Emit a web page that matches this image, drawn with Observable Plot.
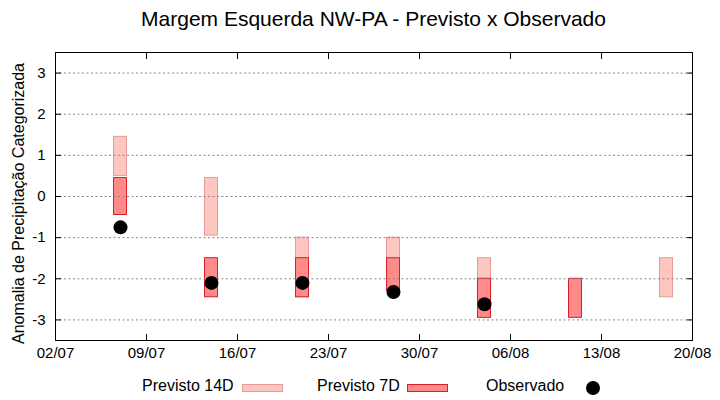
<!DOCTYPE html>
<html>
<head>
<meta charset="utf-8">
<script src="https://cdn.jsdelivr.net/npm/d3@7"></script>
<script src="https://cdn.jsdelivr.net/npm/@observablehq/plot@0.6"></script>
<style>
  body { margin: 0; width: 720px; height: 400px; background: #fff; font-family: "Liberation Sans", Arial, sans-serif; position: relative; overflow: hidden; }
  #title { position: absolute; left: 55px; width: 637px; top: 7px; text-align: center; font-size: 21px; color: #000; }
  #chart { position: absolute; left: 0; top: 40px; }
  .lg { position: absolute; font-size: 16px; color: #000; top: 377px; }
  .sw { position: absolute; }
</style>
</head>
<body>
<div id="title">Margem Esquerda NW-PA - Previsto x Observado</div>
<div id="chart"></div>
<div class="lg" style="left:142px">Previsto 14D</div>
<div class="sw" style="left:242px;top:384px;width:39px;height:6px;background:#fdc6c0;border:1px solid #e89a98"></div>
<div class="lg" style="left:317px">Previsto 7D</div>
<div class="sw" style="left:407px;top:384px;width:39px;height:6px;background:#ff8a8a;border:1px solid #d8202a"></div>
<div class="lg" style="left:486px">Observado</div>
<div class="sw" style="left:586px;top:381px;width:14px;height:14px;border-radius:50%;background:#000"></div>
<script>
const dates = ["2023-07-07","2023-07-14","2023-07-21","2023-07-28","2023-08-04","2023-08-11","2023-08-18"];
const p14Min = [0.5, -0.95, -2.45, -2.3, -2.95, null, -2.45];
const p14Max = [1.45, 0.45, -1.0, -1.0, -1.5, null, -1.5];
const p7Min = [-0.45, -2.45, -2.45, -2.3, -2.95, -2.95, null];
const p7Max = [0.45, -1.5, -1.5, -1.5, -2.0, -2.0, null];
const observado = [-0.75, -2.1, -2.1, -2.32, -2.62, null, null];
const xTicks = ["2023-07-02","2023-07-09","2023-07-16","2023-07-23","2023-07-30","2023-08-06","2023-08-13","2023-08-20"];
const yTicks = [-3, -2, -1, 0, 1, 2, 3];

const parse = d3.utcParse("%Y-%m-%d");
const rows = dates.map((d, i) => ({
  date: parse(d), p14Min: p14Min[i], p14Max: p14Max[i],
  p7Min: p7Min[i], p7Max: p7Max[i], obs: observado[i]
}));
const xt = xTicks.map(parse);
const half = d => d3.utcHour.offset(d.date, -12);
const halfR = d => d3.utcHour.offset(d.date, 12);

const chart = Plot.plot({
  width: 720,
  height: 330,
  marginTop: 12,
  marginBottom: 30,
  marginLeft: 55,
  marginRight: 28,
  style: { fontFamily: "Liberation Sans, Arial, sans-serif", fontSize: "15px", color: "#000", background: "#fff" },
  x: { type: "utc", domain: [xt[0], xt[xt.length - 1]] },
  y: { domain: [-3.5, 3.5] },
  marks: [
    Plot.rect(rows.filter(d => d.p14Min != null), { x1: half, x2: halfR, y1: "p14Min", y2: "p14Max", fill: "#fdc6c0", stroke: "#e89a98", strokeWidth: 1 }),
    Plot.rect(rows.filter(d => d.p7Min != null), { x1: half, x2: halfR, y1: "p7Min", y2: "p7Max", fill: "#ff8a8a", stroke: "#d8202a", strokeWidth: 1 }),
    Plot.gridY(yTicks, { stroke: "#888", strokeOpacity: 1, strokeDasharray: "2,2.5", strokeWidth: 1 }),
    Plot.dot(rows.filter(d => d.obs != null), { x: "date", y: "obs", r: 7, fill: "#000", stroke: "none" }),
    Plot.axisX(xt, { anchor: "bottom", tickSize: -6, tickFormat: () => "" , label: null}),
    Plot.axisX(xt, { anchor: "top", tickSize: -6, tickFormat: () => "", label: null }),
    Plot.axisX(xt, { anchor: "bottom", tickSize: 0, tickPadding: 7, tickFormat: d3.utcFormat("%d/%m"), label: null, fontSize: 15 }),
    Plot.axisY(yTicks, { anchor: "left", tickSize: -6, tickFormat: () => "", label: null }),
    Plot.axisY(yTicks, { anchor: "right", tickSize: -6, tickFormat: () => "", label: null }),
    Plot.axisY(yTicks, { anchor: "left", tickSize: 0, tickPadding: 10, tickFormat: d => d3.format("d")(d).replace("−", "-"), fontSize: 15, label: null }),
    Plot.axisY(yTicks, { anchor: "left", tickSize: 0, tickFormat: () => "", fontSize: 16,
      label: "Anomalia de Precipitação Categorizada", labelAnchor: "center", labelArrow: "none", labelOffset: 43 }),
    Plot.frame({ stroke: "#000", strokeWidth: 1 })
  ]
});
document.getElementById("chart").appendChild(chart);
const lab = chart.querySelector('g[aria-label="y-axis label"]');
if (lab) {
  lab.setAttribute("font-size", "16");
  const t = lab.getAttribute("transform") || "";
  lab.setAttribute("transform", t + " translate(0,7)");
}
</script>
</body>
</html>
